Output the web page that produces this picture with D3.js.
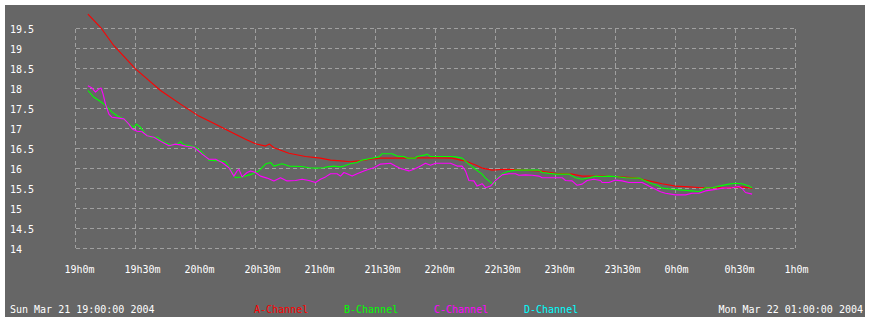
<!doctype html>
<html lang="en">
<head>
    <meta charset="UTF-8">
    <title>Channels</title>
    <style>
        body { margin: 0; background: #fff; }
        text { font-family: "DejaVu Sans Mono", monospace; font-size: 10px; }
        .line { fill: none; stroke-width: 1.1; stroke-linejoin: round; }
        .grid line { stroke: #a0a0a0; stroke-dasharray: 4,3; shape-rendering: crispEdges; }
    </style>
</head>
<body>
<svg width="870" height="322"></svg>
<script src="https://cdn.jsdelivr.net/npm/d3@7"></script>
<script>
    // minutes after 19:00, value
    const aChannel = [[6.2,19.86],[12.5,19.53],[19.2,19.07],[30,18.49],[35.8,18.24],[42.5,17.95],[52.5,17.61],
        [61.7,17.31],[68.3,17.15],[76.7,16.94],[85,16.73],[90,16.62],[95,16.56],[97,16.61],[99.2,16.52],
        [106.7,16.38],[115,16.30],[122.5,16.26],[127.5,16.21],[132.5,16.19],[137.5,16.17],[141.5,16.19],
        [147.5,16.23],[152.5,16.26],[164,16.26],[172.5,16.27],[188.3,16.26],[192.5,16.21],[195,16.19],
        [200,16.09],[203.3,16.01],[208.3,15.96],[215,15.98],[223.3,15.96],[231.7,15.94],[240,15.88],
        [248.3,15.86],[253.3,15.81],[262.5,15.81],[270,15.80],[280,15.77],[286.7,15.69],[293.3,15.62],
        [300,15.56],[306.7,15.54],[313.3,15.52],[326.7,15.52],[333.3,15.54],[338.3,15.50]];

    const bChannel = [[6.2,17.95],[9.2,17.78],[11.7,17.70],[14.2,17.61],[16.7,17.49],[18.3,17.41],[20.8,17.32],
        [24.2,17.24],[26.7,17.11],[29.2,17.03],[30.5,17.11],[32.5,17.03],[35,16.86],[37.5,16.78],[40.8,16.78],
        [44.2,16.66],[47.5,16.59],[50.8,16.61],[52.5,16.67],[54.2,16.59],[57.5,16.57],[60,16.53],[62.2,16.45],
        [63.3,16.40],[66.7,16.21],[71.7,16.19],[75,16.17],[77.5,15.98],[80,15.77],[83.3,15.79],[88.3,15.86],
        [91.7,15.94],[95,16.11],[97.5,16.15],[99.2,16.06],[103.3,16.12],[106.7,16.06],[113.3,16.05],
        [116.7,16.02],[120,16.01],[124.2,16.02],[125.8,16.04],[129.2,16.06],[132.5,16.04],[134.2,16.06],
        [137.5,16.12],[140.8,16.15],[143.3,16.21],[147.5,16.25],[151.7,16.29],[153.3,16.37],[158.3,16.37],
        [160.8,16.31],[164.2,16.30],[165.8,16.26],[170,16.26],[170.8,16.30],[175,16.34],[175.8,16.36],
        [177.5,16.30],[187.5,16.30],[190,16.29],[193.3,16.26],[196.7,16.11],[200,15.98],[203.3,15.86],
        [205,15.76],[206.7,15.69],[208.3,15.62],[209.2,15.62],[210.8,15.76],[213.3,15.86],[215.8,15.92],
        [220,15.96],[231.7,15.96],[233.3,15.90],[240,15.86],[246.7,15.86],[250,15.77],[253.3,15.73],
        [256.7,15.77],[260,15.81],[263.3,15.80],[266.7,15.81],[270,15.80],[275,15.77],[281.7,15.76],
        [285,15.69],[288.3,15.62],[291.7,15.56],[293.3,15.51],[298.3,15.48],[303.3,15.46],[308.3,15.44],
        [311.7,15.42],[315,15.52],[318.3,15.52],[321.7,15.56],[326.7,15.61],[330,15.63],[333.3,15.62],
        [336.7,15.56],[338.3,15.52]];

    const cChannel = [[6.2,18.07],[8.3,18.01],[10,17.91],[11.7,17.99],[12.8,18.01],[13.8,17.86],[15,17.61],
        [16.7,17.36],[18.3,17.28],[21.7,17.26],[24.2,17.24],[26.7,17.11],[28.3,16.99],[30.8,16.93],
        [33.3,16.92],[35.8,16.82],[39.2,16.78],[43.3,16.66],[46.7,16.57],[50,16.61],[52.5,16.59],
        [55.8,16.55],[59.2,16.53],[62.2,16.41],[63.3,16.36],[66.7,16.23],[70,16.23],[73.3,16.15],
        [76.7,16.02],[79.2,15.81],[80.8,15.94],[81.7,15.98],[83.3,15.79],[85.8,15.90],[87.5,15.94],
        [90,15.90],[92.5,15.81],[95.8,15.76],[99.2,15.69],[102.5,15.77],[105.8,15.69],[110,15.70],
        [113.3,15.73],[116.7,15.70],[120,15.65],[122.5,15.73],[125,15.79],[127.5,15.87],[130.8,15.87],
        [132.5,15.81],[134.2,15.90],[135.8,15.87],[138.3,15.81],[140.8,15.87],[144.2,15.94],[146.7,15.98],
        [149.2,16.02],[152.5,16.11],[157.5,16.13],[160,16.06],[162.5,16.00],[166.7,15.94],[169.2,15.98],
        [172.5,16.06],[175,16.13],[177.5,16.08],[180,16.13],[187.5,16.13],[190.8,16.06],[193.3,16.06],
        [195,15.94],[196.7,15.70],[199.2,15.69],[200.8,15.56],[203.3,15.62],[205,15.52],[207.5,15.56],
        [210,15.70],[213.3,15.84],[216.7,15.87],[220,15.87],[221.7,15.83],[225,15.84],[228.3,15.83],
        [231.7,15.81],[233.3,15.77],[243.3,15.77],[245,15.70],[248.3,15.69],[250.8,15.58],[253.3,15.61],
        [255.8,15.70],[259.2,15.73],[262.5,15.70],[263.3,15.65],[266.7,15.65],[270,15.71],[273.3,15.69],
        [276.7,15.65],[283.3,15.65],[286.7,15.56],[290,15.48],[292.5,15.42],[295,15.38],[300,15.34],
        [305,15.34],[308.3,15.38],[311.7,15.38],[315,15.44],[317.5,15.46],[320.8,15.48],[323.3,15.51],
        [328.3,15.52],[331.7,15.55],[333.3,15.50],[335,15.40],[338.3,15.36]];

    const dChannel = [];

    const seriesNames = ["A-Channel", "B-Channel", "C-Channel", "D-Channel"];
    const seriesColors = ["#ff0000", "#00ff00", "#ff00ff", "#00ffff"];
    const seriesData = [aChannel, bChannel, cChannel, dChannel];
    const yTicks = [14, 14.5, 15, 15.5, 16, 16.5, 17, 17.5, 18, 18.5, 19, 19.5];
    const startLabel = "Sun Mar 21 19:00:00 2004";
    const endLabel = "Mon Mar 22 01:00:00 2004";

    const t0 = new Date(2004, 2, 21, 19, 0);
    const t1 = new Date(2004, 2, 22, 1, 0);
    const at = m => new Date(t0.getTime() + m * 60000);

    const svg = d3.select("svg");
    svg.append("rect").attr("x", 5).attr("y", 5).attr("width", 860).attr("height", 312).attr("fill", "#666");

    const x = d3.scaleTime().domain([t0, t1]).range([75.5, 795.5]);
    const y = d3.scaleLinear().domain([14, 19.5]).range([248.5, 28.5]);
    const xTicks = x.ticks(d3.timeMinute.every(30));
    const fmt = d => d.getHours() + "h" + d.getMinutes() + "m";

    const grid = svg.append("g").attr("class", "grid");
    grid.selectAll(".h").data(yTicks).enter().append("line")
        .attr("x1", x.range()[0]).attr("x2", x.range()[1])
        .attr("y1", d => y(d)).attr("y2", d => y(d));
    grid.selectAll(".v").data(xTicks).enter().append("line")
        .attr("x1", d => x(d)).attr("x2", d => x(d))
        .attr("y1", y.range()[1]).attr("y2", y.range()[0]);

    svg.append("g").selectAll("text").data(yTicks).enter().append("text")
        .attr("x", 10).attr("y", d => y(d) + 4.5).attr("fill", "#fff")
        .text(d => d);

    svg.append("g").selectAll("text").data(xTicks).enter().append("text")
        .attr("x", d => x(d) - 11).attr("y", 273).attr("fill", "#fff")
        .text(fmt);

    const line = d3.line().x(d => x(at(d[0]))).y(d => y(d[1]));
    svg.append("g").selectAll("path").data(seriesData).enter().append("path")
        .attr("class", "line")
        .attr("stroke", (d, i) => seriesColors[i])
        .attr("d", d => d.length ? line(d) : null);

    svg.append("text").attr("x", 10).attr("y", 313).attr("fill", "#fff").text(startLabel);
    svg.append("text").attr("x", 863).attr("y", 313).attr("text-anchor", "end").attr("fill", "#fff").text(endLabel);
    svg.append("g").selectAll("text").data(seriesNames).enter().append("text")
        .attr("x", (d, i) => 254 + i * 90).attr("y", 313)
        .attr("fill", (d, i) => seriesColors[i])
        .text(d => d);
</script>
</body>
</html>
